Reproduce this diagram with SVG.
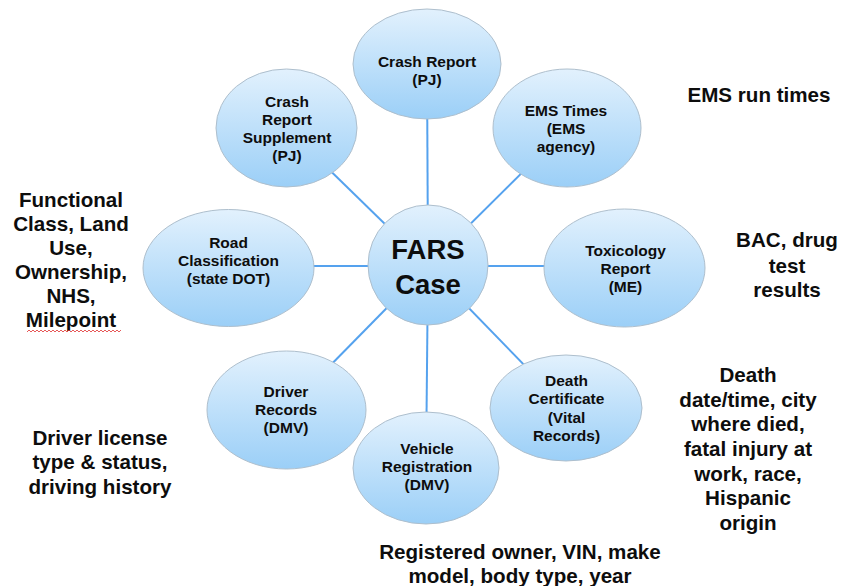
<svg xmlns="http://www.w3.org/2000/svg" width="843" height="586" viewBox="0 0 843 586">
<defs>
<linearGradient id="g" x1="0" y1="0" x2="0" y2="1">
<stop offset="0" stop-color="#e2f1fd"/>
<stop offset="1" stop-color="#9bcff7"/>
</linearGradient>
<style>
.n{fill:url(#g);stroke:#aebfcd;stroke-width:1}
.t{font-family:"Liberation Sans",Arial,sans-serif;font-weight:bold;font-size:15.5px;fill:#0d0d0d;text-anchor:middle}
.a{font-family:"Liberation Sans",Arial,sans-serif;font-weight:bold;font-size:20.6px;fill:#0d0d0d;text-anchor:middle}
.c{stroke:#55a2ee;stroke-width:2;fill:none}
</style>
</defs>
<rect width="843" height="586" fill="#ffffff"/>
<g id="connectors">
<line class="c" x1="428" y1="266" x2="427" y2="64"/>
<line class="c" x1="428" y1="266" x2="286.5" y2="128"/>
<line class="c" x1="428" y1="266" x2="567" y2="128"/>
<line class="c" x1="428" y1="266" x2="228.5" y2="266"/>
<line class="c" x1="428" y1="266" x2="624.5" y2="266"/>
<line class="c" x1="428" y1="266" x2="286.5" y2="410"/>
<line class="c" x1="428" y1="266" x2="566" y2="408"/>
<line class="c" x1="428" y1="266" x2="426" y2="468"/>
</g>
<g id="crash-report">
<ellipse class="n" cx="427" cy="64" rx="74" ry="55"/>
<text class="t" x="427" y="67">Crash Report</text>
<text class="t" x="427" y="85">(PJ)</text>
</g>
<g id="crash-report-supplement">
<ellipse class="n" cx="286.5" cy="128" rx="70.5" ry="59"/>
<text class="t" x="287" y="107">Crash</text>
<text class="t" x="287" y="125">Report</text>
<text class="t" x="287" y="143">Supplement</text>
<text class="t" x="287" y="161">(PJ)</text>
</g>
<g id="ems-times">
<ellipse class="n" cx="567" cy="128" rx="74" ry="59"/>
<text class="t" x="566" y="116">EMS Times</text>
<text class="t" x="566" y="134">(EMS</text>
<text class="t" x="566" y="152">agency)</text>
</g>
<g id="road-classification">
<ellipse class="n" cx="228.5" cy="268" rx="85.5" ry="58.5"/>
<text class="t" x="228.5" y="248">Road</text>
<text class="t" x="228.5" y="266">Classification</text>
<text class="t" x="228.5" y="284">(state DOT)</text>
</g>
<g id="toxicology-report">
<ellipse class="n" cx="624.5" cy="268" rx="80.5" ry="59"/>
<text class="t" x="625.5" y="256">Toxicology</text>
<text class="t" x="625.5" y="274">Report</text>
<text class="t" x="625.5" y="292">(ME)</text>
</g>
<g id="driver-records">
<ellipse class="n" cx="286.5" cy="410" rx="79.5" ry="59"/>
<text class="t" x="286" y="397">Driver</text>
<text class="t" x="286" y="415">Records</text>
<text class="t" x="286" y="433">(DMV)</text>
</g>
<g id="death-certificate">
<ellipse class="n" cx="566" cy="408" rx="76" ry="53"/>
<text class="t" x="566.5" y="386">Death</text>
<text class="t" x="566.5" y="404">Certificate</text>
<text class="t" x="566.5" y="423">(Vital</text>
<text class="t" x="566.5" y="441">Records)</text>
</g>
<g id="vehicle-registration">
<ellipse class="n" cx="426" cy="468" rx="73" ry="56"/>
<text class="t" x="427" y="454">Vehicle</text>
<text class="t" x="427" y="472">Registration</text>
<text class="t" x="427" y="490">(DMV)</text>
</g>
<g id="fars-case">
<circle class="n" cx="428" cy="265" r="60"/>
<text class="t" x="428" y="259" style="font-size:27.5px">FARS</text>
<text class="t" x="428" y="294" style="font-size:27.5px">Case</text>
</g>
<g id="annotations">
<text class="a" x="759" y="102">EMS run times</text>
<text class="a" x="787" y="247">BAC, drug</text>
<text class="a" x="787" y="273">test</text>
<text class="a" x="787" y="297">results</text>
<text class="a" x="71" y="207">Functional</text>
<text class="a" x="71" y="231">Class, Land</text>
<text class="a" x="71" y="255">Use,</text>
<text class="a" x="71" y="279">Ownership,</text>
<text class="a" x="71" y="303">NHS,</text>
<text class="a" x="71" y="327">Milepoint</text>
<path d="M27 332 l2 -2 l2 2 l2 -2 l2 2 l2 -2 l2 2 l2 -2 l2 2 l2 -2 l2 2 l2 -2 l2 2 l2 -2 l2 2 l2 -2 l2 2 l2 -2 l2 2 l2 -2 l2 2 l2 -2 l2 2 l2 -2 l2 2 l2 -2 l2 2 l2 -2 l2 2 l2 -2 l2 2 l2 -2 l2 2 l2 -2 l2 2 l2 -2 l2 2 l2 -2 l2 2 l2 -2 l2 2 l2 -2 l2 2 l2 -2 l2 2 l2 -2 l2 2 l2 -2" fill="none" stroke="#e03030" stroke-width="0.8"/>
<text class="a" x="100" y="445">Driver license</text>
<text class="a" x="100" y="469">type &amp; status,</text>
<text class="a" x="100" y="494">driving history</text>
<text class="a" x="748" y="382">Death</text>
<text class="a" x="748" y="407">date/time, city</text>
<text class="a" x="748" y="431">where died,</text>
<text class="a" x="748" y="456">fatal injury at</text>
<text class="a" x="748" y="481">work, race,</text>
<text class="a" x="748" y="505">Hispanic</text>
<text class="a" x="748" y="530">origin</text>
<text class="a" x="520" y="559">Registered owner, VIN, make</text>
<text class="a" x="520" y="583">model, body type, year</text>
</g>
</svg>
